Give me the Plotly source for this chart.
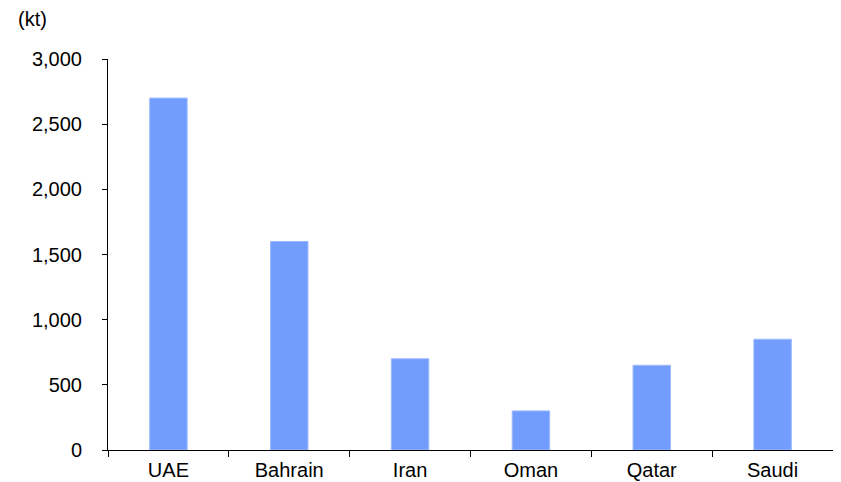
import plotly.graph_objects as go

categories = ["UAE", "Bahrain", "Iran", "Oman", "Qatar", "Saudi"]
values = [2700, 1600, 700, 300, 650, 850]
y_ticks = [0, 500, 1000, 1500, 2000, 2500, 3000]
y_tick_labels = ["0", "500", "1,000", "1,500", "2,000", "2,500", "3,000"]

FONT = "Liberation Sans, Arial, sans-serif"
L, R, T, B = 100, 16, 51, 40
W, H = 841, 482
PW, PH = W - L - R, H - T - B

fig = go.Figure(go.Bar(
    x=categories, y=values, width=0.31,
    marker=dict(color="#729dff", line=dict(color="#9dbaff", width=1)),
))

fig.update_layout(
    width=W, height=H,
    margin=dict(l=L, r=R, t=T, b=B, autoexpand=False),
    paper_bgcolor="white", plot_bgcolor="white",
    font=dict(family=FONT, size=20, color="black"),
    showlegend=False,
    annotations=[dict(text="(kt)", xref="paper", yref="paper",
                      x=(8 - L) / PW, y=1 + (T - 11) / PH,
                      xanchor="left", yanchor="middle",
                      showarrow=False, font=dict(family=FONT, size=20))],
)

fig.update_xaxes(
    showline=True, linecolor="black", linewidth=1,
    ticks="outside", tickson="boundaries", ticklen=6, tickcolor="black",
    showgrid=False, range=[-0.5, 5.5], ticklabelstandoff=2, automargin=False,
)
fig.update_yaxes(
    range=[0, 3000], tickvals=y_ticks, ticktext=y_tick_labels,
    showline=True, linecolor="black", linewidth=1,
    ticks="outside", ticklen=5, tickcolor="black",
    showgrid=False, zeroline=False, ticklabelstandoff=16, automargin=False,
)

fig.write_html("out.html")
